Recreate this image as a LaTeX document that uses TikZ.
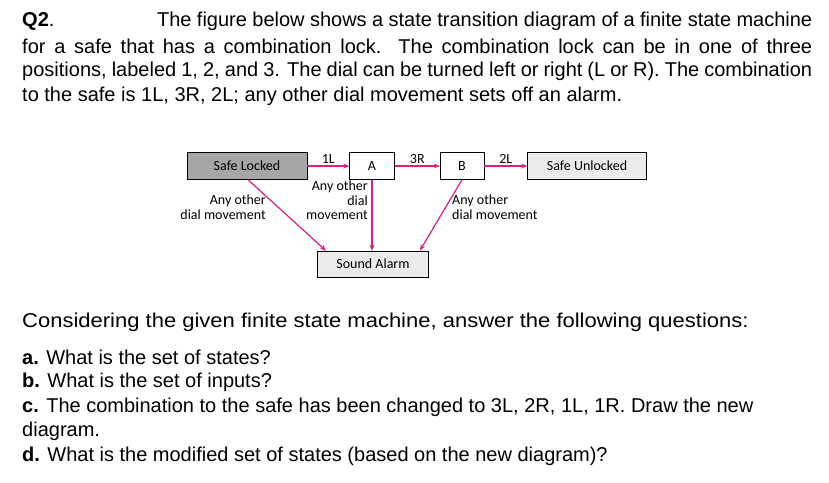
\documentclass[tikz,border=0pt]{standalone}
\usepackage{fontspec}
\setmainfont{Liberation Sans}
\newfontfamily\diagfont{Carlito}
\usetikzlibrary{arrows.meta,positioning}
\definecolor{arrowpink}{RGB}{214,32,132}
\begin{document}
\begin{tikzpicture}[x=1pt,y=1pt]
            % Estilos
            \tikzset{state/.style={rectangle, draw, thin, font=\diagfont\fontsize{14}{16}\selectfont, minimum height=27pt, inner sep=2pt},
              trans/.style={draw=arrowpink, line width=1.2pt, -{Stealth[length=6pt,width=5pt]}},
              lbl/.style={font=\diagfont\fontsize{14}{14.5}\selectfont, inner sep=1pt},
              line/.style={anchor=west, inner sep=0pt, font=\fontsize{20}{24}\selectfont}}
            \useasboundingbox (0,0) rectangle (829,482);
            \fill[white] (0,0) rectangle (829,482);

            % Texto
            \node[line] (l1) at (22,461) {\makebox[790pt][s]{\textbf{Q2}. \hspace{88pt} The figure below shows a state transition diagram of a finite state machine}};
            \node[line] (l2) at (22,436) {\makebox[790pt][s]{for a safe that has a combination lock. The combination lock can be in one of three}};
            \node[line] (l3) at (22,411) {\makebox[790pt][s]{positions, labeled 1, 2, and 3. The dial can be turned left or right (L or R). The combination}};
            \node[line] (l4) at (22,386) {to the safe is 1L, 3R, 2L; any other dial movement sets off an alarm.};
            \node[line] (q0) at (22,160) {\scalebox{1.1}[1]{Considering the given finite state machine, answer the following questions:}};
            \node[line] (qa) at (22,125) {\textbf{a.} What is the set of states?};
            \node[line] (qb) at (22,100) {\textbf{b.} What is the set of inputs?};
            \node[line] (qc) at (22,75) {\textbf{c.} The combination to the safe has been changed to 3L, 2R, 1L, 1R. Draw the new};
            \node[line] (qc2) at (22,51) {diagram.};
            \node[line] (qd) at (22,26) {\textbf{d.} What is the modified set of states (based on the new diagram)?};

            % Estados
            \node[state, fill=black!35, minimum width=120pt] (locked) at (247,316) {Safe Locked};
            \node[state, minimum width=45pt] (a) at (372,316) {A};
            \node[state, minimum width=44pt] (b) at (462,316) {B};
            \node[state, fill=black!8, minimum width=119pt] (unlocked) at (587,316) {Safe Unlocked};
            \node[state, fill=black!8, minimum width=111pt, minimum height=26pt] (alarm) at (373,218) {Sound Alarm};

            \draw[trans] (locked) -- node[lbl, above=1pt] {1L} (a);
            \draw[trans] (a) -- node[lbl, above=1pt] {3R} (b);
            \draw[trans] (b) -- node[lbl, above=1pt] {2L} (unlocked);
            \draw[trans] (locked.south) ++(1,0) coordinate (ls) -- (alarm.north west -| 326,0) coordinate (al);
            \draw[trans] (a.south) -- (a.south |- alarm.north);
            \draw[trans] (b.south) -- (420,231.5) coordinate (ar);

            \node[lbl, align=right, anchor=north east] (lbllocked) at (267,288) {Any other\\dial movement};
            \node[lbl, align=right, anchor=north east] (lbla) at (369,302) {Any other\\dial\\movement};
            \node[lbl, align=left, anchor=north west] (lblb) at (451,288) {Any other\\dial movement};
\end{tikzpicture}
\end{document}
